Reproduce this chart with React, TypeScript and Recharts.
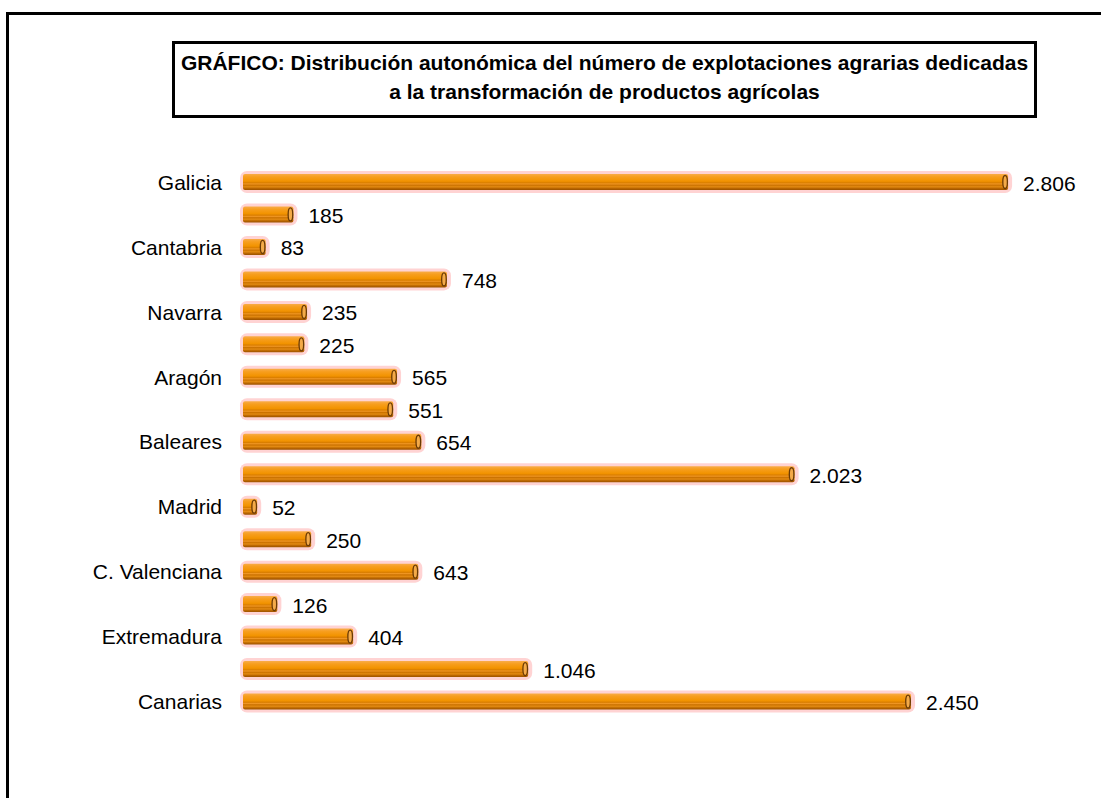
import { BarChart, Bar, XAxis, YAxis, LabelList } from 'recharts';

const regions = [
  'Galicia',
  'Asturias',
  'Cantabria',
  'País Vasco',
  'Navarra',
  'La Rioja',
  'Aragón',
  'Cataluña',
  'Baleares',
  'Castilla y León',
  'Madrid',
  'Castilla-La Mancha',
  'C. Valenciana',
  'Murcia',
  'Extremadura',
  'Andalucía',
  'Canarias',
];

const farms = [2806, 185, 83, 748, 235, 225, 565, 551, 654, 2023, 52, 250, 643, 126, 404, 1046, 2450];

const titleLines = [
  'GRÁFICO: Distribución autonómica del número de explotaciones agrarias dedicadas',
  'a la transformación de productos agrícolas',
];

const data = regions.map((name, i) => ({ name, value: farms[i] }));

const FONT = '"Liberation Sans", Arial, sans-serif';

function fmt(n: number) {
  return n.toLocaleString('de-DE');
}

// cylinder-looking bar with pink glow and dark end cap
function TubeBar(props: any) {
  const { x, y, width, height } = props;
  if (!width || width <= 0) return null;
  const ry = height / 2;
  return (
    <g>
      <rect
        x={x - 3}
        y={y - 3}
        width={width + 7}
        height={height + 6}
        rx={7}
        ry={7}
        fill="#FFD3D3"
      />
      <rect x={x} y={y} width={width} height={height} rx={2} fill="url(#tube)" />
      <ellipse
        cx={x + width - 3}
        cy={y + ry}
        rx={2.3}
        ry={ry - 1.5}
        fill="#F4AA48"
        stroke="#6A3A05"
        strokeWidth={1.3}
      />
    </g>
  );
}

function ValueLabel(props: any) {
  const { x, y, width, height, value } = props;
  return (
    <text
      x={x + width + 15}
      y={y + height / 2 + 3}
      dominantBaseline="middle"
      fontFamily={FONT}
      fontSize={21}
      fill="#000"
    >
      {fmt(value)}
    </text>
  );
}

export default function App() {
  return (
    <div
      style={{
        position: 'absolute',
        left: 0,
        top: 0,
        width: 1101,
        height: 798,
        overflow: 'hidden',
        background: '#fff',
        fontFamily: FONT,
      }}
    >
      <div
        style={{
          position: 'absolute',
          left: 6,
          top: 12,
          width: 1300,
          height: 1000,
          borderLeft: '3px solid #000',
          borderTop: '3px solid #000',
        }}
      />
      <div
        style={{
          position: 'absolute',
          left: 172,
          top: 41,
          width: 859,
          height: 67,
          border: '3px solid #000',
          textAlign: 'center',
          fontWeight: 'bold',
          fontSize: 21,
          lineHeight: '29px',
          paddingTop: 4,
          boxSizing: 'content-box',
          whiteSpace: 'nowrap',
        }}
      >
        {titleLines[0]}
        <br />
        {titleLines[1]}
      </div>
      <div style={{ position: 'absolute', left: 0, top: 0 }}>
        <BarChart
          width={1101}
          height={798}
          data={data}
          layout="vertical"
          barCategoryGap={0}
          margin={{ top: 166, right: 40, bottom: 80, left: 0 }}
        >
          <defs>
            <linearGradient id="tube" x1="0" y1="0" x2="0" y2="1">
              <stop offset="0%" stopColor="#F8AC48" />
              <stop offset="18%" stopColor="#F79E1E" />
              <stop offset="45%" stopColor="#F29300" />
              <stop offset="55%" stopColor="#DA7E00" />
              <stop offset="62%" stopColor="#F09624" />
              <stop offset="70%" stopColor="#CB7200" />
              <stop offset="80%" stopColor="#E38A12" />
              <stop offset="90%" stopColor="#BA6600" />
              <stop offset="100%" stopColor="#9A5200" />
            </linearGradient>
          </defs>
          <XAxis type="number" domain={[0, 3000]} hide />
          <YAxis
            type="category"
            dataKey="name"
            width={243}
            interval={1}
            axisLine={false}
            tickLine={false}
            tickSize={0}
            tickMargin={21}
            tick={{ fill: '#000', fontSize: 21, fontFamily: FONT }}
          />
          <Bar dataKey="value" barSize={16} shape={<TubeBar />} isAnimationActive={false}>
            <LabelList dataKey="value" content={<ValueLabel />} />
          </Bar>
        </BarChart>
      </div>
    </div>
  );
}
